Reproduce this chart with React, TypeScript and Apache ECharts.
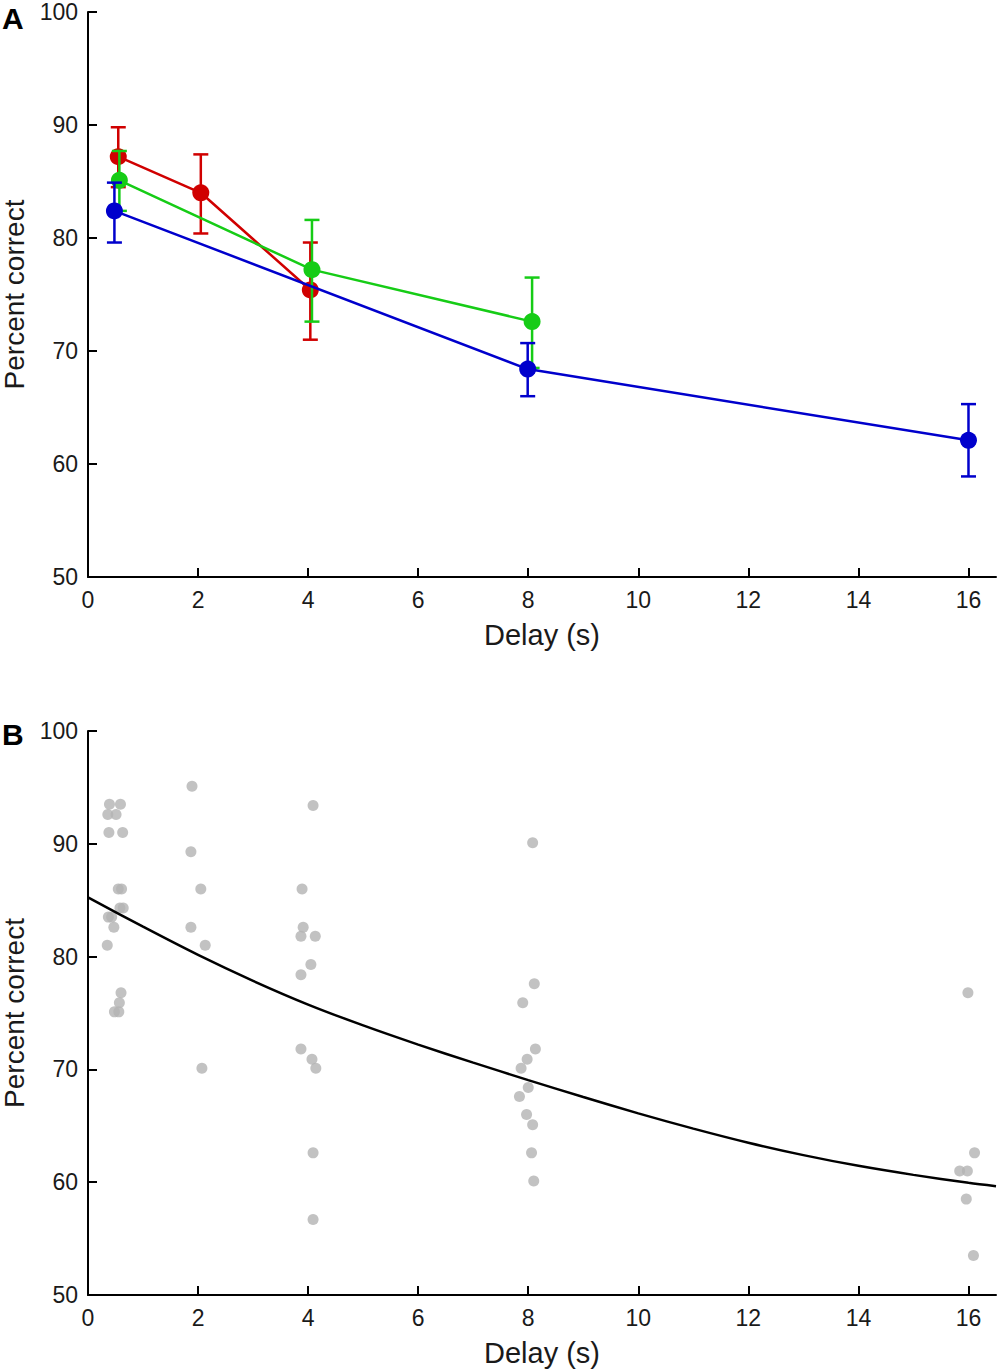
import React, { useEffect, useRef } from "react";
import * as echarts from "echarts";

// ---------- Panel A data ----------
const redX = [0.55, 2.05, 4.04];
const redY = [87.2, 84.0, 75.4];
const redLo = [84.5, 80.4, 71.0];
const redHi = [89.8, 87.4, 79.6];

const greenX = [0.57, 4.07, 8.07];
const greenY = [85.1, 77.2, 72.6];
const greenLo = [82.4, 72.6, 68.5];
const greenHi = [87.7, 81.6, 76.5];

const blueX = [0.48, 7.99, 16.0];
const blueY = [82.4, 68.4, 62.1];
const blueLo = [79.6, 66.0, 58.9];
const blueHi = [84.9, 70.7, 65.3];

// ---------- Panel B data ----------
const scatterX = [
  0.39, 0.59, 0.36, 0.51, 0.38, 0.63, 0.55, 0.61, 0.58, 0.64, 0.37, 0.43, 0.47, 0.35, 0.6, 0.57, 0.48, 0.56,
  1.89, 1.87, 2.05, 1.87, 2.13, 2.07,
  4.09, 3.89, 3.91, 3.87, 4.13, 4.05, 3.87, 3.87, 4.07, 4.14, 4.09, 4.09,
  8.08, 8.11, 7.9, 8.13, 7.98, 7.87, 8.0, 7.84, 7.97, 8.08, 8.06, 8.1,
  15.99, 16.11, 15.84, 15.98, 15.96, 16.09,
];
const scatterY = [
  93.5, 93.5, 92.6, 92.6, 91.0, 91.0, 86.0, 86.0, 84.3, 84.3, 83.5, 83.5, 82.6, 81.0, 76.8, 75.9, 75.1, 75.1,
  95.1, 89.3, 86.0, 82.6, 81.0, 70.1,
  93.4, 86.0, 82.6, 81.8, 81.8, 79.3, 78.4, 71.8, 70.9, 70.1, 62.6, 56.7,
  90.1, 77.6, 75.9, 71.8, 70.9, 70.1, 68.4, 67.6, 66.0, 65.1, 62.6, 60.1,
  76.8, 62.6, 61.0, 61.0, 58.5, 53.5,
];

const curveX = [0, 1, 2, 3, 4, 5, 6, 7, 8, 9, 10, 11, 12, 13, 14, 15, 16, 16.5];
const curveY = [85.25, 82.65, 80.15, 77.85, 75.75, 73.9, 72.2, 70.6, 69.05, 67.55, 66.1, 64.75, 63.5, 62.4, 61.45, 60.65, 59.95, 59.65];

// ---------- Axis ticks ----------
const xTicks = [0, 2, 4, 6, 8, 10, 12, 14, 16];
const yTicks = [50, 60, 70, 80, 90, 100];

const RED = "#d00000";
const GREEN = "#16cc16";
const BLUE = "#0000cc";
const GREY = "#b3b3b3";
const FONT = "'Liberation Sans', Arial, Helvetica, sans-serif";
const TEXT = "#1a1a1a";

function zip(xs: number[], ys: number[]) {
  return xs.map((x, i) => [x, ys[i]]);
}

function errorSeries(xs: number[], lo: number[], hi: number[], color: string, z: number, axis: number) {
  return {
    type: "custom",
    xAxisIndex: axis,
    yAxisIndex: axis,
    z,
    silent: true,
    data: xs.map((x, i) => [x, lo[i], hi[i]]),
    encode: { x: 0, y: [1, 2] },
    renderItem: (_params: any, api: any) => {
      const x = api.value(0);
      const pLo = api.coord([x, api.value(1)]);
      const pHi = api.coord([x, api.value(2)]);
      const hw = 7.5;
      const st = { stroke: color, lineWidth: 2.5, fill: "none" };
      return {
        type: "group",
        children: [
          { type: "line", shape: { x1: pLo[0], y1: pLo[1], x2: pHi[0], y2: pHi[1] }, style: st },
          { type: "line", shape: { x1: pLo[0] - hw, y1: pLo[1], x2: pLo[0] + hw, y2: pLo[1] }, style: st },
          { type: "line", shape: { x1: pHi[0] - hw, y1: pHi[1], x2: pHi[0] + hw, y2: pHi[1] }, style: st },
        ],
      };
    },
  };
}

function lineSeries(xs: number[], ys: number[], color: string, z: number) {
  return {
    type: "line",
    xAxisIndex: 0,
    yAxisIndex: 0,
    z,
    data: zip(xs, ys),
    symbol: "circle",
    symbolSize: 17,
    lineStyle: { color, width: 2.5 },
    itemStyle: { color },
    silent: true,
  };
}

function xAxis(gridIndex: number) {
  return {
    type: "value",
    gridIndex,
    min: 0,
    max: 16.5,
    interval: 2,
    axisLine: { show: true, onZero: false, lineStyle: { color: "#000", width: 2 } },
    axisTick: { show: true, inside: true, length: 9, lineStyle: { color: "#000", width: 2 }, customValues: xTicks },
    axisLabel: { customValues: xTicks, fontSize: 23, color: TEXT, margin: 11, fontFamily: FONT },
    splitLine: { show: false },
    name: "Delay (s)",
    nameLocation: "middle",
    nameGap: 43,
    nameTextStyle: { fontSize: 29, color: TEXT, fontFamily: FONT },
  };
}

function yAxis(gridIndex: number) {
  return {
    type: "value",
    gridIndex,
    min: 50,
    max: 100,
    interval: 10,
    axisLine: { show: true, onZero: false, lineStyle: { color: "#000", width: 2 } },
    axisTick: { show: true, inside: true, length: 9, lineStyle: { color: "#000", width: 2 }, customValues: yTicks },
    axisLabel: { customValues: yTicks, fontSize: 23, color: TEXT, margin: 10, fontFamily: FONT },
    splitLine: { show: false },
    name: "Percent correct",
    nameLocation: "middle",
    nameGap: 53,
    nameTextStyle: { fontSize: 28, color: TEXT, fontFamily: FONT },
  };
}

export default function App() {
  const ref = useRef<HTMLDivElement>(null);
  useEffect(() => {
    if (!ref.current) return;
    const chart = echarts.init(ref.current, undefined, { renderer: "svg" });
    chart.setOption({
      animation: false,
      backgroundColor: "#fff",
      grid: [
        { left: 88, top: 12, width: 908, height: 565, containLabel: false, outerBoundsMode: "none" },
        { left: 88, top: 731, width: 908, height: 564, containLabel: false, outerBoundsMode: "none" },
      ],
      xAxis: [xAxis(0), xAxis(1)],
      yAxis: [yAxis(0), yAxis(1)],
      graphic: [
        { type: "text", left: 2, top: 3, style: { text: "A", font: `bold 30px ${FONT}`, fill: "#000" } },
        { type: "text", left: 2, top: 719, style: { text: "B", font: `bold 30px ${FONT}`, fill: "#000" } },
      ],
      series: [
        errorSeries(redX, redLo, redHi, RED, 3, 0),
        lineSeries(redX, redY, RED, 4),
        errorSeries(greenX, greenLo, greenHi, GREEN, 5, 0),
        lineSeries(greenX, greenY, GREEN, 6),
        errorSeries(blueX, blueLo, blueHi, BLUE, 7, 0),
        lineSeries(blueX, blueY, BLUE, 8),
        {
          type: "scatter",
          xAxisIndex: 1,
          yAxisIndex: 1,
          z: 3,
          data: zip(scatterX, scatterY),
          symbol: "circle",
          symbolSize: 11,
          itemStyle: { color: GREY },
          silent: true,
        },
        {
          type: "line",
          xAxisIndex: 1,
          yAxisIndex: 1,
          z: 4,
          data: zip(curveX, curveY),
          smooth: 0.3,
          showSymbol: false,
          symbol: "none",
          lineStyle: { color: "#000", width: 2.5 },
          silent: true,
        },
      ],
    });
    return () => chart.dispose();
  }, []);
  return (
    <div
      ref={ref}
      style={{ position: "absolute", left: 0, top: 0, width: 1000, height: 1372, background: "#fff" }}
    />
  );
}
